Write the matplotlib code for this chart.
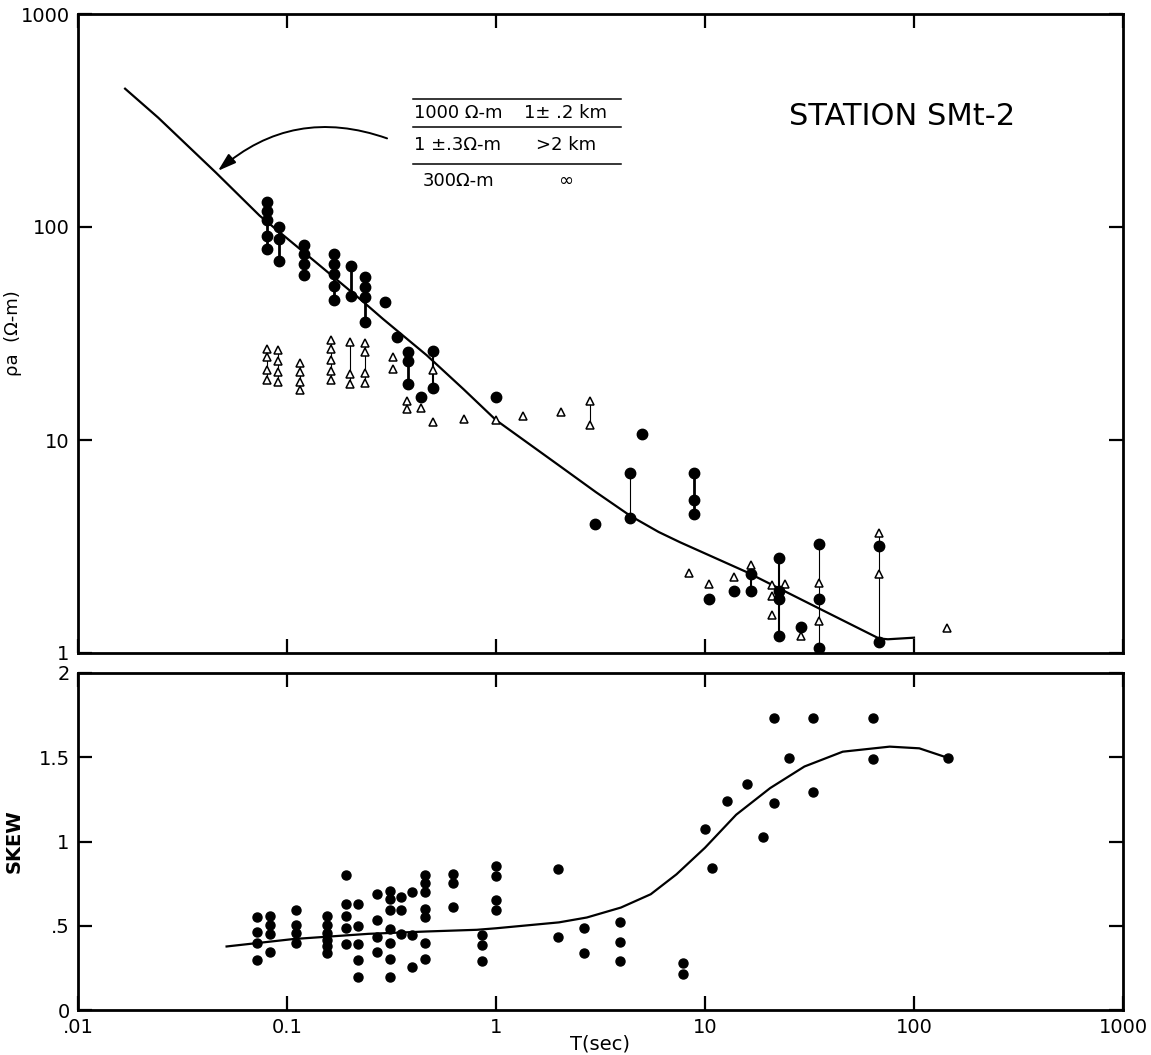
import matplotlib.pyplot as plt
import numpy as np

plt.rcParams['font.family'] = ['DejaVu Sans']

# ---- apparent resistivity, filled circles (T sec, rho ohm-m)
dot_T = [0.080]*5 + [0.0916]*3 + [0.121]*4 + [0.167]*5 + [0.202]*2 + [0.237]*4 + \
        [0.294, 0.335] + [0.38]*3 + [0.436] + [0.50]*2 + [1.0, 2.97] + [4.4]*2 + \
        [4.98] + [8.9]*3 + [10.4, 13.8] + [16.6]*2 + [22.7]*4 + [28.7] + [35.1]*3 + [68.3]*2
dot_rho = [131, 119, 108, 91, 79,
           100, 87.5, 69,
           82, 74.5, 67, 59.3,
           74.6, 66.8, 60, 52.8, 45.3,
           65.9, 47.5,
           58.4, 52.4, 46.7, 35.7,
           44.3, 30.5,
           26, 23.4, 18.3,
           15.9,
           26.1, 17.5,
           16.0, 4.04,
           7.0, 4.3,
           10.7,
           7.0, 5.2, 4.5,
           1.79, 1.95,
           2.36, 1.95,
           2.80, 1.95, 1.80, 1.20,
           1.32,
           3.24, 1.79, 1.05,
           3.19, 1.13]

# ---- open triangles
tri_T = [0.080]*4 + [0.091]*4 + [0.115]*4 + [0.163]*5 + [0.20]*3 + [0.236]*4 + \
        [0.32]*2 + [0.375]*2 + [0.436] + [0.50]*2 + [0.70, 1.0, 1.34, 2.05] + [2.82]*2 + \
        [8.4, 10.4, 13.8, 16.6] + [21]*3 + [24.2, 28.7] + [35.1]*2 + [68.3]*2 + [143.5]
tri_rho = [26.7, 24.4, 21.3, 19.2,
           26.4, 23.5, 20.9, 18.8,
           23, 20.9, 18.8, 17.2,
           29.5, 26.7, 23.8, 21, 19.2,
           28.7, 20.4, 18.3,
           28.4, 25.9, 20.6, 18.6,
           24.5, 21.5,
           15.3, 14.0,
           14.2,
           21.3, 12.1,
           12.5, 12.4, 12.9, 13.5,
           15.2, 11.7,
           2.38, 2.11, 2.27, 2.58,
           2.08, 1.85, 1.51,
           2.11, 1.20,
           2.14, 1.42,
           3.66, 2.36,
           1.31]

# ---- vertical connectors (T, low, high, width)
seg_T = [0.080, 0.0916, 0.121, 0.167, 0.202, 0.237, 0.38, 0.50, 4.4, 8.9, 16.6, 22.7, 35.1, 68.3,
         0.080, 0.091, 0.115, 0.163, 0.20, 0.236, 2.82]
seg_lo = [79, 69, 59.3, 45.3, 47.5, 35.7, 18.3, 17.5, 4.3, 4.5, 1.95, 1.20, 1.05, 1.13,
          19.2, 18.8, 17.2, 19.2, 18.3, 18.6, 11.7]
seg_hi = [131, 100, 82, 74.6, 65.9, 58.4, 26, 26.1, 7.0, 7.0, 2.58, 2.80, 3.24, 3.66,
          26.7, 26.4, 23, 29.5, 28.7, 28.4, 15.2]
seg_lw = [2, 2, 2, 2, 2, 2, 2, 1.5, 0.8, 2, 1.5, 1.5, 0.8, 0.8,
          0.8, 0.8, 0.8, 0.8, 0.8, 0.8, 0.8]

# ---- model curve
model_T = [0.0168, 0.0242, 0.0457, 0.074, 0.115, 0.223, 0.288, 0.466, 0.7, 1.0,
           2.0, 3.0, 4.4, 6.0, 7.6, 15.8, 34.2, 68, 75, 100]
model_rho = [446, 326, 180, 113, 79, 46, 37, 25, 17.3, 12.4,
             7.6, 5.7, 4.4, 3.7, 3.31, 2.4, 1.64, 1.17, 1.16, 1.18]

# ---- skew
skew_T = [0.0716]*4 + [0.083]*4 + [0.110]*4 + [0.155]*6 + [0.191]*5 + [0.219]*5 + \
         [0.27]*4 + [0.311]*7 + [0.351]*3 + [0.398]*3 + [0.457]*7 + [0.625]*3 + \
         [0.855]*3 + [1.0]*4 + [1.98]*2 + [2.65]*2 + [3.94]*3 + [7.87]*2 + \
         [10, 10.8, 12.8, 15.9, 18.9] + [21.5]*2 + [25.1] + [33]*2 + [64]*2 + [145.6]
skew_val = [0.552, 0.46, 0.397, 0.298,
            0.555, 0.502, 0.452, 0.347,
            0.591, 0.506, 0.456, 0.397,
            0.555, 0.502, 0.456, 0.417, 0.377, 0.337,
            0.80, 0.629, 0.555, 0.486, 0.391,
            0.629, 0.496, 0.393, 0.298, 0.195,
            0.689, 0.536, 0.436, 0.343,
            0.704, 0.659, 0.595, 0.48, 0.397, 0.302, 0.198,
            0.669, 0.591, 0.452,
            0.698, 0.446, 0.254,
            0.80, 0.754, 0.70, 0.601, 0.552, 0.397, 0.302,
            0.808, 0.754, 0.611,
            0.446, 0.387, 0.288,
            0.853, 0.794, 0.655, 0.591,
            0.839, 0.435,
            0.486, 0.339,
            0.52, 0.402, 0.289,
            0.281, 0.215,
            1.077, 0.844, 1.238, 1.34, 1.026,
            1.734, 1.23,
            1.496,
            1.734, 1.293,
            1.734, 1.49,
            1.496]

skew_curve_T = [0.0514, 0.107, 0.245, 0.466, 0.81, 1.0, 2.0, 2.72, 3.96, 5.5, 7.3,
                10, 14.1, 20.5, 29.9, 45.6, 76.5, 106, 145.6]
skew_curve = [0.377, 0.421, 0.452, 0.466, 0.476, 0.485, 0.52, 0.549, 0.608, 0.687, 0.805,
              0.963, 1.159, 1.317, 1.445, 1.533, 1.563, 1.553, 1.496]

x_ticks = [0.01, 0.1, 1, 10, 100, 1000]
x_labels = ['.01', '0.1', '1', '10', '100', '1000']
rho_ticks = [1, 10, 100, 1000]
rho_labels = ['1', '10', '100', '1000']
skew_ticks = [0, 0.5, 1, 1.5, 2]
skew_labels = ['0', '.5', '1', '1.5', '2']

W, H = 1151, 1055
fig = plt.figure(figsize=(W / 100, H / 100), dpi=100)
ax1 = fig.add_axes([78 / W, 1 - 653 / H, 1045 / W, 639 / H])
ax2 = fig.add_axes([78 / W, 1 - 1010 / H, 1045 / W, 337 / H])


def style(ax):
    for s in ax.spines.values():
        s.set_linewidth(2)
    ax.tick_params(which='major', direction='in', length=10, width=1.6,
                   top=True, right=True, labelsize=14, pad=6)
    ax.tick_params(which='minor', length=0)


# top panel
ax1.plot(model_T, model_rho, color='black', lw=1.6, zorder=2)
ax1.vlines(seg_T, seg_lo, seg_hi, colors='black', linewidths=seg_lw, zorder=2)
ax1.plot(dot_T, dot_rho, 'o', color='black', ms=7.5, zorder=4)
ax1.plot(tri_T, tri_rho, '^', mfc='white', mec='black', mew=1.1, ms=6, zorder=3)
ax1.set_xscale('log')
ax1.set_yscale('log')
ax1.set_xlim(0.01, 1000)
ax1.set_ylim(1, 1000)
ax1.set_xticks(x_ticks)
ax1.set_xticklabels([])
ax1.set_yticks(rho_ticks)
ax1.set_yticklabels(rho_labels)
style(ax1)
ax1.set_ylabel('ρa  (Ω-m)', fontsize=13)
ax1.yaxis.set_label_coords(-0.054, 0.5)

ax1.text(0.789, 0.84, 'STATION SMt-2', transform=ax1.transAxes, fontsize=22,
         ha='center', va='center')

# layer table
def fx(x):
    return x / W


def fy(y):
    return 1 - y / H


for yy in [99, 127, 164]:
    fig.add_artist(plt.Line2D([fx(413), fx(621)], [fy(yy), fy(yy)], color='black', lw=1.1))
rows = [('1000 Ω-m', '1± .2 km'), ('1 ±.3Ω-m', '>2 km'), ('300Ω-m', '∞')]
for (c1, c2), yy in zip(rows, [113, 145, 181]):
    fig.text(fx(458), fy(yy), c1, ha='center', va='center', fontsize=13)
    fig.text(fx(566), fy(yy), c2, ha='center', va='center', fontsize=13)

ax1.annotate('', xy=(0.0457, 180), xytext=(0.31, 258),
             arrowprops=dict(arrowstyle='-|>,head_length=1.1,head_width=0.35',
                             connectionstyle='arc3,rad=0.3', color='black', lw=1.4))

# bottom panel
ax2.plot(skew_curve_T, skew_curve, color='black', lw=1.6)
ax2.plot(skew_T, skew_val, 'o', color='black', ms=6.5)
ax2.set_xscale('log')
ax2.set_xlim(0.01, 1000)
ax2.set_ylim(0, 2)
ax2.set_xticks(x_ticks)
ax2.set_xticklabels(x_labels)
ax2.set_yticks(skew_ticks)
ax2.set_yticklabels(skew_labels)
style(ax2)
ax2.set_ylabel('SKEW', fontsize=14, fontweight='bold')
ax2.yaxis.set_label_coords(-0.052, 0.5)
ax2.set_xlabel('T(sec)', fontsize=14, labelpad=-2)

fig.savefig('out.png', dpi=100)
